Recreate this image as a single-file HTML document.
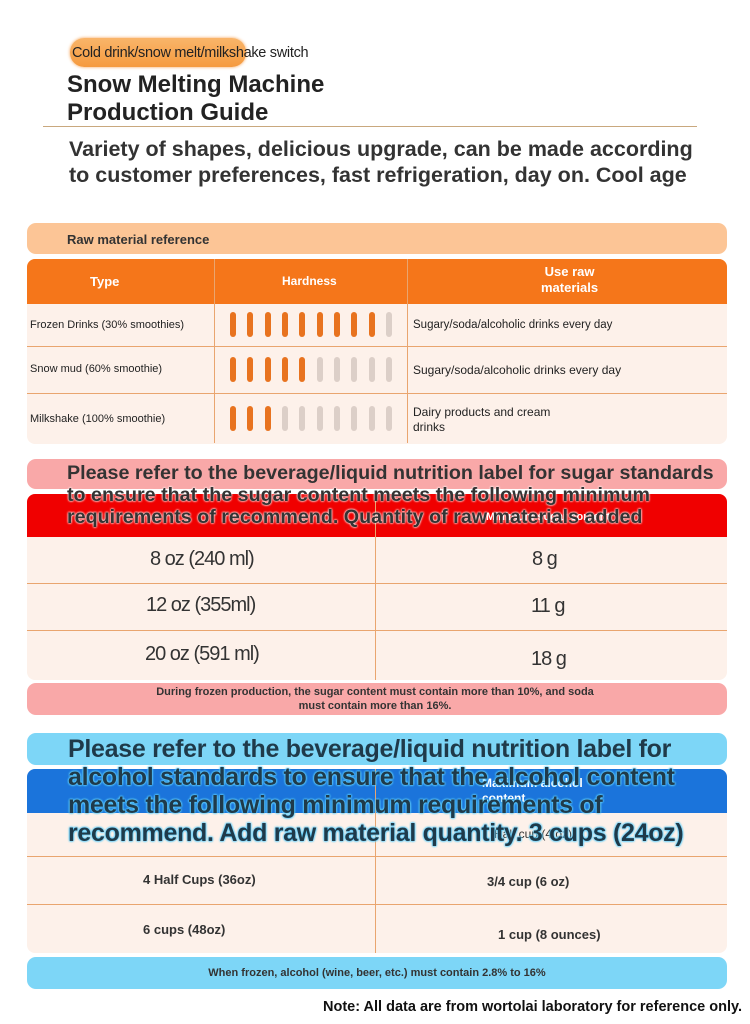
<!DOCTYPE html>
<html><head><meta charset="utf-8"><style>
*{margin:0;padding:0;box-sizing:border-box}
body{width:750px;height:1024px;background:#fff;position:relative;overflow:hidden;font-family:"Liberation Sans",sans-serif;color:#222}
.a{position:absolute;white-space:nowrap}
.bar{position:absolute;width:6px;height:25px;border-radius:3px}
.o{background:#e8731f}.g{background:#dccfc8}
.hl{position:absolute;height:1px;background:#e9a56f}
.vl{position:absolute;width:1px;background:#e9a56f}
</style></head><body>
<div class="a" style="left:70px;top:38px;width:176px;height:29px;border-radius:14px;background:linear-gradient(#f9b56a,#f59a3e);box-shadow:0 0 3px #f5a050"></div>
<div class="a" style="left:72px;top:45px;font-size:14.5px;letter-spacing:-0.3px;color:#222">Cold drink/snow melt/milkshake switch</div>
<div class="a" style="left:67px;top:71px;font-size:24px;font-weight:bold;line-height:28px;color:#222">Snow Melting Machine<br>Production Guide</div>
<div class="a" style="left:43px;top:126px;width:654px;height:1px;background:#c9a87e"></div>
<div class="a" style="left:69px;top:136px;font-size:21.5px;font-weight:bold;line-height:26px;color:#333">Variety of shapes, delicious upgrade, can be made according<br>to customer preferences, fast refrigeration, day on. Cool age</div>

<div class="a" style="left:27px;top:223px;width:700px;height:31px;border-radius:9px;background:#fcc596"></div>
<div class="a" style="left:67px;top:232px;font-size:13px;font-weight:bold;color:#333">Raw material reference</div>
<div class="a" style="left:27px;top:259px;width:700px;height:185px;border-radius:8px;background:#fdf1ea;overflow:hidden">
<div style="height:45px;background:#f5761a"></div></div>
<div class="vl" style="left:214px;top:259px;height:184px"></div>
<div class="vl" style="left:407px;top:259px;height:184px"></div>
<div class="hl" style="left:27px;top:346px;width:700px"></div>
<div class="hl" style="left:27px;top:393px;width:700px"></div>
<div class="a" style="left:90px;top:274px;font-size:13px;font-weight:bold;color:#fff">Type</div>
<div class="a" style="left:282px;top:274px;font-size:12px;font-weight:bold;color:#fff">Hardness</div>
<div class="a" style="left:541px;top:264px;font-size:13px;font-weight:bold;color:#fff;text-align:center;line-height:16px">Use raw<br>materials</div>
<div class="a" style="left:30px;top:319px;font-size:11px">Frozen Drinks (30% smoothies)</div>
<div class="a" style="left:30px;top:363px;font-size:11px">Snow mud (60% smoothie)</div>
<div class="a" style="left:30px;top:413px;font-size:11px">Milkshake (100% smoothie)</div>
<div class="a" style="left:413px;top:319px;font-size:11.5px">Sugary/soda/alcoholic drinks every day</div>
<div class="a" style="left:413px;top:363px;font-size:12px">Sugary/soda/alcoholic drinks every day</div>
<div class="a" style="left:413px;top:405px;font-size:12px;line-height:15px">Dairy products and cream<br>drinks</div>
<div class="bar o" style="left:230px;top:312px"></div><div class="bar o" style="left:247px;top:312px"></div><div class="bar o" style="left:265px;top:312px"></div><div class="bar o" style="left:282px;top:312px"></div><div class="bar o" style="left:299px;top:312px"></div><div class="bar o" style="left:317px;top:312px"></div><div class="bar o" style="left:334px;top:312px"></div><div class="bar o" style="left:351px;top:312px"></div><div class="bar o" style="left:369px;top:312px"></div><div class="bar g" style="left:386px;top:312px"></div>
<div class="bar o" style="left:230px;top:357px"></div><div class="bar o" style="left:247px;top:357px"></div><div class="bar o" style="left:265px;top:357px"></div><div class="bar o" style="left:282px;top:357px"></div><div class="bar o" style="left:299px;top:357px"></div><div class="bar g" style="left:317px;top:357px"></div><div class="bar g" style="left:334px;top:357px"></div><div class="bar g" style="left:351px;top:357px"></div><div class="bar g" style="left:369px;top:357px"></div><div class="bar g" style="left:386px;top:357px"></div>
<div class="bar o" style="left:230px;top:406px"></div><div class="bar o" style="left:247px;top:406px"></div><div class="bar o" style="left:265px;top:406px"></div><div class="bar g" style="left:282px;top:406px"></div><div class="bar g" style="left:299px;top:406px"></div><div class="bar g" style="left:317px;top:406px"></div><div class="bar g" style="left:334px;top:406px"></div><div class="bar g" style="left:351px;top:406px"></div><div class="bar g" style="left:369px;top:406px"></div><div class="bar g" style="left:386px;top:406px"></div>

<div class="a" style="left:27px;top:459px;width:700px;height:30px;border-radius:9px;background:#f9a8a8"></div>
<div class="a" style="left:27px;top:494px;width:700px;height:186px;border-radius:8px;background:#fdf1ea;overflow:hidden"><div style="height:43px;background:#f00000"></div></div>
<div class="vl" style="left:375px;top:494px;height:186px"></div>
<div class="hl" style="left:27px;top:583px;width:700px"></div>
<div class="hl" style="left:27px;top:630px;width:700px"></div>
<div class="a" style="left:486px;top:511px;font-size:11px;font-weight:bold;color:#fff">Minimum sugar content</div>
<div class="a" style="left:150px;top:548px;font-size:20px;letter-spacing:-1px;color:#333">8 oz (240 ml)</div>
<div class="a" style="left:146px;top:594px;font-size:20px;letter-spacing:-1px;color:#333">12 oz (355ml)</div>
<div class="a" style="left:145px;top:643px;font-size:20px;letter-spacing:-1px;color:#333">20 oz (591 ml)</div>
<div class="a" style="left:532px;top:548px;font-size:20px;letter-spacing:-1px;color:#333">8 g</div>
<div class="a" style="left:531px;top:595px;font-size:20px;letter-spacing:-1px;color:#333">11 g</div>
<div class="a" style="left:531px;top:648px;font-size:20px;letter-spacing:-1px;color:#333">18 g</div>
<div class="a" style="left:67px;top:462px;font-size:19.7px;font-weight:bold;line-height:22px;color:#333">Please refer to the beverage/liquid nutrition label for sugar standards<br><span style="text-shadow:0 0 2px #fff,0 0 2px #fff">to ensure that the sugar content meets the following minimum<br>requirements of recommend. Quantity of raw materials added</span></div>
<div class="a" style="left:27px;top:683px;width:700px;height:32px;border-radius:9px;background:#f9a8a8"></div>
<div class="a" style="left:0;width:750px;text-align:center;top:685px;font-size:11px;font-weight:bold;line-height:14px;color:#333">During frozen production, the sugar content must contain more than 10%, and soda<br>must contain more than 16%.</div>

<div class="a" style="left:27px;top:733px;width:700px;height:32px;border-radius:9px;background:#7dd6f7"></div>
<div class="a" style="left:27px;top:769px;width:700px;height:184px;border-radius:8px;background:#fdf1ea;overflow:hidden"><div style="height:44px;background:#1b74db"></div></div>
<div class="vl" style="left:375px;top:769px;height:184px"></div>
<div class="hl" style="left:27px;top:856px;width:700px"></div>
<div class="hl" style="left:27px;top:904px;width:700px"></div>
<div class="a" style="left:482px;top:776px;font-size:12px;font-weight:bold;line-height:15px;color:#fff">Maximum alcohol<br>content</div>
<div class="a" style="left:494px;top:827px;font-size:12px;color:#333">Half cup (4 oz)</div>
<div class="a" style="left:143px;top:872px;font-size:13px;font-weight:bold;color:#333">4 Half Cups (36oz)</div>
<div class="a" style="left:143px;top:922px;font-size:13px;font-weight:bold;color:#333">6 cups (48oz)</div>
<div class="a" style="left:487px;top:874px;font-size:13px;font-weight:bold;color:#333">3/4 cup (6 oz)</div>
<div class="a" style="left:498px;top:927px;font-size:13px;font-weight:bold;color:#333">1 cup (8 ounces)</div>
<div class="a" style="left:68px;top:735px;font-size:25px;font-weight:bold;line-height:28px;letter-spacing:-0.3px;color:#1f3a4a">Please refer to the beverage/liquid nutrition label for<br><span style="text-shadow:0 0 2px #5fd0ff,0 0 2px #5fd0ff,0 0 2px #5fd0ff">alcohol standards to ensure that the alcohol content<br>meets the following minimum requirements of<br>recommend. Add raw material quantity. 3 cups (24oz)</span></div>
<div class="a" style="left:27px;top:957px;width:700px;height:32px;border-radius:9px;background:#7dd6f7"></div>
<div class="a" style="left:0;width:754px;text-align:center;top:967px;font-size:11px;font-weight:bold;color:#333">When frozen, alcohol (wine, beer, etc.) must contain 2.8% to 16%</div>
<div class="a" style="right:8px;top:999px;font-size:14.5px;font-weight:bold;color:#111">Note: All data are from wortolai laboratory for reference only.</div>
</body></html>
